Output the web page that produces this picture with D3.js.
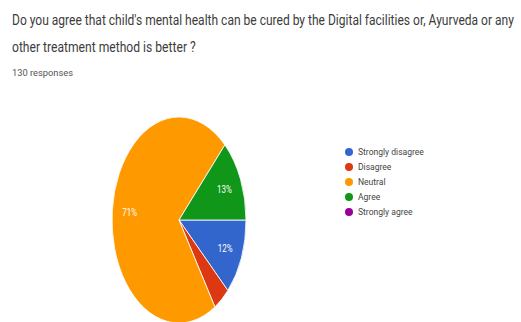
<!DOCTYPE html>
<html><head><meta charset="utf-8">
<script src="https://cdn.jsdelivr.net/npm/d3@7"></script>
<style>body{margin:0;background:#fff}svg{display:block}</style>
</head><body>
<svg id="c" width="521" height="322"></svg>
<script>
const titleLines = ["Do you agree that child's mental health can be cured by the Digital facilities or, Ayurveda or any", "other treatment method is better ?"];
const subtitle = "130 responses";
const categories = ["Strongly disagree", "Disagree", "Neutral", "Agree", "Strongly agree"];
const values = [12, 4, 71, 13, 0];
const colors = ["#3366cc", "#dc3912", "#ff9900", "#109618", "#990099"];

const svg = d3.select("#c");
const font = "Roboto, 'Liberation Sans', sans-serif";

// place a text at (x,y) horizontally compressed to a target width via transform
function fitText(parent, x, y, str, size, fill, target) {
  const t = parent.append("text").attr("font-family", font).attr("font-size", size)
    .attr("fill", fill).text(str);
  const w = t.node().getComputedTextLength();
  const k = target / w;
  t.attr("transform", `translate(${x},${y}) scale(${k},1)`);
  return t;
}

// title
fitText(svg, 12, 25, titleLines[0], 14, "#3c3c3c", 502);
fitText(svg, 12, 52, titleLines[1], 14, "#3c3c3c", 184);
fitText(svg, 12, 76, subtitle, 8.5, "#555", 61);

// pie (elliptical: scaled horizontally)
const cx = 179, cy = 220, ry = 103, rx = 67;
const data = categories.map((c, i) => ({cat: c, value: values[i], color: colors[i]}));
const total = d3.sum(values);
const pie = d3.pie().value(d => d.value).sort(null).startAngle(Math.PI / 2).endAngle(Math.PI / 2 + 2 * Math.PI);
const arcs = pie(data);
const arc = d3.arc().innerRadius(0).outerRadius(ry);
const labelArc = d3.arc().innerRadius(ry * 0.74).outerRadius(ry * 0.74);

const g = svg.append("g").attr("transform", `translate(${cx},${cy})`);
g.append("g").attr("transform", `scale(${rx / ry},1)`)
  .selectAll("path").data(arcs.filter(d => d.value > 0)).join("path")
  .attr("d", arc).attr("fill", d => d.data.color)
  .attr("stroke", "#fff").attr("stroke-width", 1);

g.selectAll("text.lbl").data(arcs.filter(d => d.value / total >= 0.05)).join("text")
  .attr("class", "lbl")
  .attr("transform", d => `translate(${labelArc.centroid(d)[0] * rx / ry},${labelArc.centroid(d)[1]}) scale(0.8,1)`)
  .attr("dy", "0.35em").attr("text-anchor", "middle")
  .attr("font-family", font).attr("font-size", 10).attr("fill", "#fff")
  .text(d => Math.round(d.value / total * 100) + "%");

// legend
const leg = svg.append("g").attr("transform", "translate(349,152)");
const items = leg.selectAll("g").data(data).join("g").attr("transform", (d, i) => `translate(0,${i * 15})`);
items.append("circle").attr("r", 4).attr("fill", d => d.color);
items.append("text").attr("transform", "translate(9,0) scale(0.9,1)").attr("dy", "0.35em")
  .attr("font-family", font).attr("font-size", 9.5)
  .attr("fill", "#444").text(d => d.cat);
</script>
</body></html>
